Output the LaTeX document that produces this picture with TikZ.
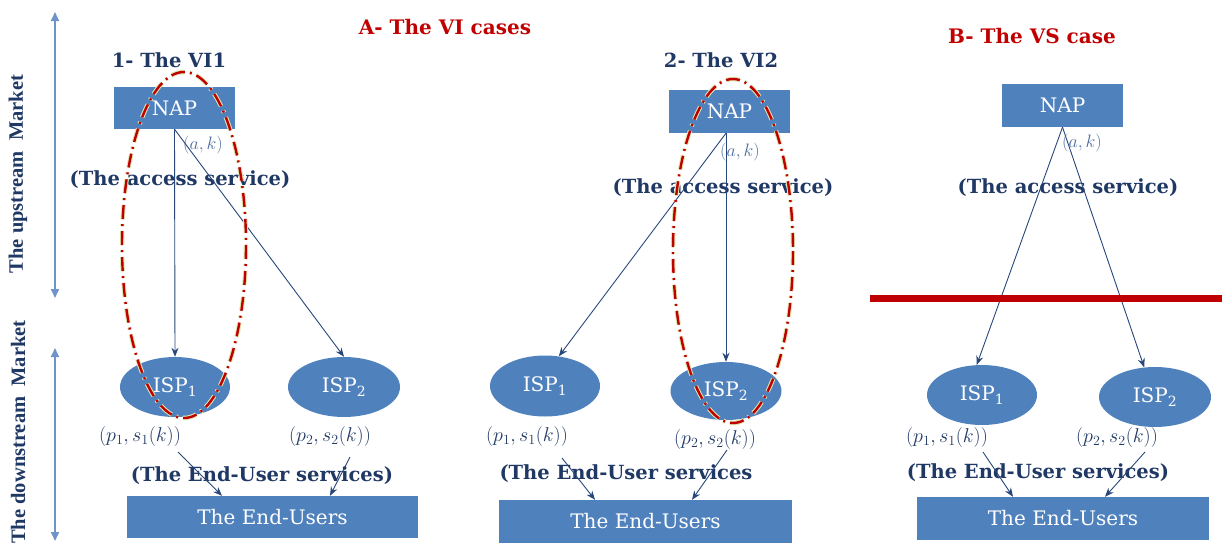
\documentclass[tikz,border=0pt]{standalone}
\usepackage{fix-cm}
\usepackage{fontspec}
\setmainfont{DejaVu Serif}
\newfontfamily\sidefont{Liberation Serif}
\usetikzlibrary{shapes.geometric,arrows.meta}
\definecolor{boxblue}{HTML}{4F81BD}
\definecolor{navy}{HTML}{1F3864}
\definecolor{darkred}{HTML}{C00000}
\definecolor{lblue}{HTML}{6F93C9}
\definecolor{mathc}{HTML}{4F6F9F}
\definecolor{linec}{HTML}{27477A}
\definecolor{glow}{HTML}{DCE6B0}
\begin{document}
\begin{tikzpicture}[x=1pt,y=-1pt,
  rectbox/.style={rectangle, fill=boxblue, text=white, inner sep=0pt, font=\fontsize{20}{24}\selectfont},
  ispnode/.style={ellipse, fill=boxblue, text=white, inner sep=0pt, font=\fontsize{20}{24}\selectfont},
  heading/.style={text=navy, font=\bfseries\fontsize{19.5}{23}\selectfont, inner sep=0pt},
  casetitle/.style={text=darkred, font=\bfseries\fontsize{20}{24}\selectfont, inner sep=0pt},
  sidelabel/.style={text=navy, font=\sidefont\bfseries\fontsize{20.5}{24}\selectfont, rotate=90, inner sep=0pt},
  aklabel/.style={text=mathc, font=\fontsize{18}{22}\selectfont, inner sep=0pt},
  pslabel/.style={text=navy, font=\fontsize{20}{24}\selectfont, inner sep=0pt},
  conn/.style={draw=linec, line width=0.9pt, -{Stealth[length=9pt,width=7pt]}},
  market/.style={draw=lblue, line width=1.6pt, {Triangle[length=9pt,width=8pt]}-{Triangle[length=9pt,width=8pt]}},
  ringglow/.style={draw=glow, line width=4.5pt, dash pattern=on 14pt off 5pt on 2pt off 5pt},
  ring/.style={draw=darkred, line width=2.4pt, dash pattern=on 14pt off 5pt on 2pt off 5pt},
  cutbar/.style={draw=darkred, line width=7pt}
]
\useasboundingbox (0,0) rectangle (1224,544);

% market arrows and labels
\coordinate (up1) at (55,12);
\coordinate (up2) at (55,298);
\coordinate (dn1) at (55,348);
\coordinate (dn2) at (55,541);
\draw[market] (up1) -- (up2);
\draw[market] (dn1) -- (dn2);
\node[sidelabel] (upl) at (18,174) {The upstream\ \ Market};
\node[sidelabel] (dnl) at (18,432) {The downstream\ \ Market};

% titles
\node[casetitle] (ta) at (445,27) {A- The VI cases};
\node[casetitle] (tb) at (1032,36) {B- The VS case};
\node[heading] (t1) at (169,60) {1- The VI1};
\node[heading] (t2) at (721,60) {2- The VI2};

% ===== Panel 1 =====
\node[rectbox, minimum width=121pt, minimum height=42pt] (nap1) at (174.5,108) {NAP};
\node[ispnode, minimum width=110pt, minimum height=60pt] (ispa1) at (175,387) {ISP\textsubscript{1}};
\node[ispnode, minimum width=112pt, minimum height=60pt] (ispa2) at (344,387) {ISP\textsubscript{2}};
\node[rectbox, minimum width=291pt, minimum height=42pt] (eu1) at (272.5,517) {The End-Users};
\node[aklabel] (ak1) at (203,145) {$(a,k)$};
\node[heading] (as1) at (180,180) {(The access service)};
\node[pslabel] (ps11) at (140,436) {$(p_1,s_1(k))$};
\node[pslabel] (ps12) at (330,436) {$(p_2,s_2(k))$};
\node[heading] (es1) at (262,476) {(The End-User services)};
\draw[conn] (nap1.south) -- (ispa1.north);
\draw[conn] (nap1.south) -- (ispa2.north);
\coordinate (s11) at (178,452);
\coordinate (s12) at (350,457);
\coordinate (e11) at (222,0);
\coordinate (e12) at (330,0);
\draw[conn] (s11) -- (eu1.north -| e11);
\draw[conn] (s12) -- (eu1.north -| e12);
\draw[ringglow] (184,245) ellipse [x radius=62, y radius=173];
\draw[ring] (184,245) ellipse [x radius=62, y radius=173];

% ===== Panel 2 =====
\node[rectbox, minimum width=121pt, minimum height=43pt] (nap2) at (729.5,111.5) {NAP};
\node[ispnode, minimum width=110pt, minimum height=61pt] (ispb1) at (545,386) {ISP\textsubscript{1}};
\node[ispnode, minimum width=111pt, minimum height=58pt] (ispb2) at (726,391) {ISP\textsubscript{2}};
\node[rectbox, minimum width=293pt, minimum height=43pt] (eu2) at (645.5,521.5) {The End-Users};
\node[aklabel] (ak2) at (740,152) {$(a,k)$};
\node[heading] (as2) at (723,188) {(The access service)};
\node[pslabel] (ps21) at (527,436) {$(p_1,s_1(k))$};
\node[pslabel] (ps22) at (715,439) {$(p_2,s_2(k))$};
\node[heading] (es2) at (626,474) {(The End-User services};
\draw[conn] (nap2.south -| ispb2.north) -- (ispb1.65);
\draw[conn] (nap2.south -| ispb2.north) -- (ispb2.north);
\coordinate (s21) at (562,458);
\coordinate (s22) at (727,450);
\coordinate (e21) at (595,0);
\coordinate (e22) at (692,0);
\draw[conn] (s21) -- (eu2.north -| e21);
\draw[conn] (s22) -- (eu2.north -| e22);
\draw[ringglow] (733,251) ellipse [x radius=60, y radius=172];
\draw[ring] (733,251) ellipse [x radius=60, y radius=172];

% ===== Panel 3 =====
\node[rectbox, minimum width=121pt, minimum height=43pt] (nap3) at (1062.5,105.5) {NAP};
\node[ispnode, minimum width=110pt, minimum height=60pt] (ispc1) at (982,395) {ISP\textsubscript{1}};
\node[ispnode, minimum width=112pt, minimum height=60pt] (ispc2) at (1155,397) {ISP\textsubscript{2}};
\node[rectbox, minimum width=292pt, minimum height=43pt] (eu3) at (1063,518.5) {The End-Users};
\node[aklabel] (ak3) at (1082,143) {$(a,k)$};
\node[heading] (as3) at (1068,188) {(The access service)};
\node[pslabel] (ps31) at (947,437) {$(p_1,s_1(k))$};
\node[pslabel] (ps32) at (1117,437) {$(p_2,s_2(k))$};
\node[heading] (es3) at (1038,473) {(The End-User services)};
\draw[conn] (nap3.south) -- (ispc1.100);
\draw[conn] (nap3.south) -- (ispc2.110);
\coordinate (s31) at (983,452);
\coordinate (s32) at (1145,452);
\coordinate (e31) at (1013,0);
\coordinate (e32) at (1105,0);
\draw[conn] (s31) -- (eu3.north -| e31);
\draw[conn] (s32) -- (eu3.north -| e32);
\coordinate (bar1) at (870,298);
\coordinate (bar2) at (1222,298);
\draw[cutbar] (bar1) -- (bar2);
\end{tikzpicture}
\end{document}
